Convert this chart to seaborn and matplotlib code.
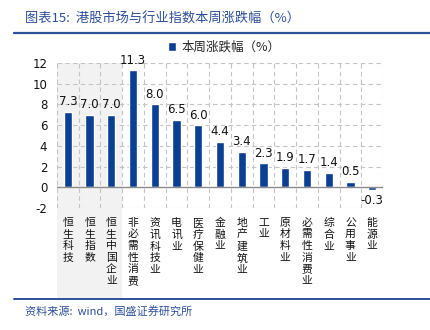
import matplotlib
matplotlib.use("Agg")
import matplotlib.pyplot as plt
from matplotlib.patches import Rectangle
from matplotlib.lines import Line2D
import seaborn as sns
import pandas as pd

categories = ["恒生科技", "恒生指数", "恒生中国企业", "非必需性消费", "资讯科技业", "电讯业",
              "医疗保健业", "金融业", "地产建筑业", "工业", "原材料业", "必需性消费业",
              "综合业", "公用事业", "能源业"]
values = [7.3, 7.0, 7.0, 11.3, 8.0, 6.5, 6.0, 4.4, 3.4, 2.3, 1.9, 1.7, 1.4, 0.5, -0.3]
yticks = [-2, 0, 2, 4, 6, 8, 10, 12]

title = "图表15:  港股市场与行业指数本周涨跌幅（%）"
source = "资料来源:  wind，国盛证券研究所"
legend_label = "本周涨跌幅（%）"

sns.set_theme(style="white")
plt.rcParams["font.family"] = ["Noto Sans CJK SC", "DejaVu Sans"]

bar_color = "#0b3f94"
accent = "#2e4f9a"

df = pd.DataFrame({"cat": categories, "val": values})

fig = plt.figure(figsize=(4.3, 3.3), dpi=100)

# shaded band behind the three Hang Seng indices, running down through the labels
shade = Rectangle((57 / 430, 1 - 298 / 330), (122 - 57) / 430, (298 - 63) / 330,
                  transform=fig.transFigure, facecolor="#f2f2f2",
                  edgecolor="none", zorder=-10)
fig.add_artist(shade)

ax = fig.add_axes([57 / 430, 1 - 208 / 330, (383 - 57) / 430, (208 - 63) / 330])
ax.set_zorder(1)
ax.patch.set_alpha(0)

sns.barplot(data=df, x="cat", y="val", color=bar_color, width=0.38,
            saturation=1, ax=ax, zorder=3)

n = len(categories)
ax.set_xlim(-0.5, n - 0.5)
ax.set_ylim(-2, 12)
ax.set_yticks(yticks)
ax.set_yticklabels([str(t) for t in yticks], fontsize=8.5, family="DejaVu Sans", color="#111111")

# dashed grid: horizontal at every tick, vertical between categories
for t in yticks:
    if t != 0:
        ax.axhline(t, color="#c4c4c4", lw=0.8, ls=(0, (4, 3)), zorder=1)
for i in range(n + 1):
    ax.axvline(i - 0.5, color="#c4c4c4", lw=0.8, ls=(0, (4, 3)), zorder=1)
ax.axhline(0, color="#8c8c8c", lw=1.0, zorder=4)

for s in ax.spines.values():
    s.set_visible(False)

ax.set_xticks(range(n))
ax.set_xticklabels(["\n".join(c) for c in categories], fontsize=7.8,
                   va="top", linespacing=1.2, color="#111111")
ax.tick_params(axis="x", length=0, pad=7)
ax.tick_params(axis="y", length=0, pad=7)
ax.set_xlabel("")
ax.set_ylabel("")

for i, v in enumerate(values):
    if v >= 0:
        ax.text(i, v + 0.35, f"{v:.1f}", ha="center", va="bottom",
                fontsize=8.5, family="DejaVu Sans", color="#111111")
    else:
        ax.text(i, v - 0.35, f"{v:.1f}", ha="center", va="top",
                fontsize=8.5, family="DejaVu Sans", color="#111111")

handle = Rectangle((0, 0), 1, 1, facecolor=bar_color)
fig.legend([handle], [legend_label], loc="center", bbox_to_anchor=(224 / 430, 1 - 47 / 330),
           frameon=False, fontsize=9, handlelength=0.7, handleheight=0.7,
           handletextpad=0.4, borderpad=0)

fig.text(25 / 430, 1 - 19 / 330, title, fontsize=9.5, color=accent,
         style="italic", va="center", ha="left")
fig.add_artist(Line2D([14 / 430, 1], [1 - 33 / 330] * 2, color=accent, lw=1.6,
                      transform=fig.transFigure))
fig.add_artist(Line2D([14 / 430, 1], [1 - 298.5 / 330] * 2, color=accent, lw=1.4,
                      transform=fig.transFigure))
fig.text(25 / 430, 1 - 311 / 330, source, fontsize=8, color=accent,
         style="italic", va="center", ha="left")

fig.savefig("out.png", dpi=100)
